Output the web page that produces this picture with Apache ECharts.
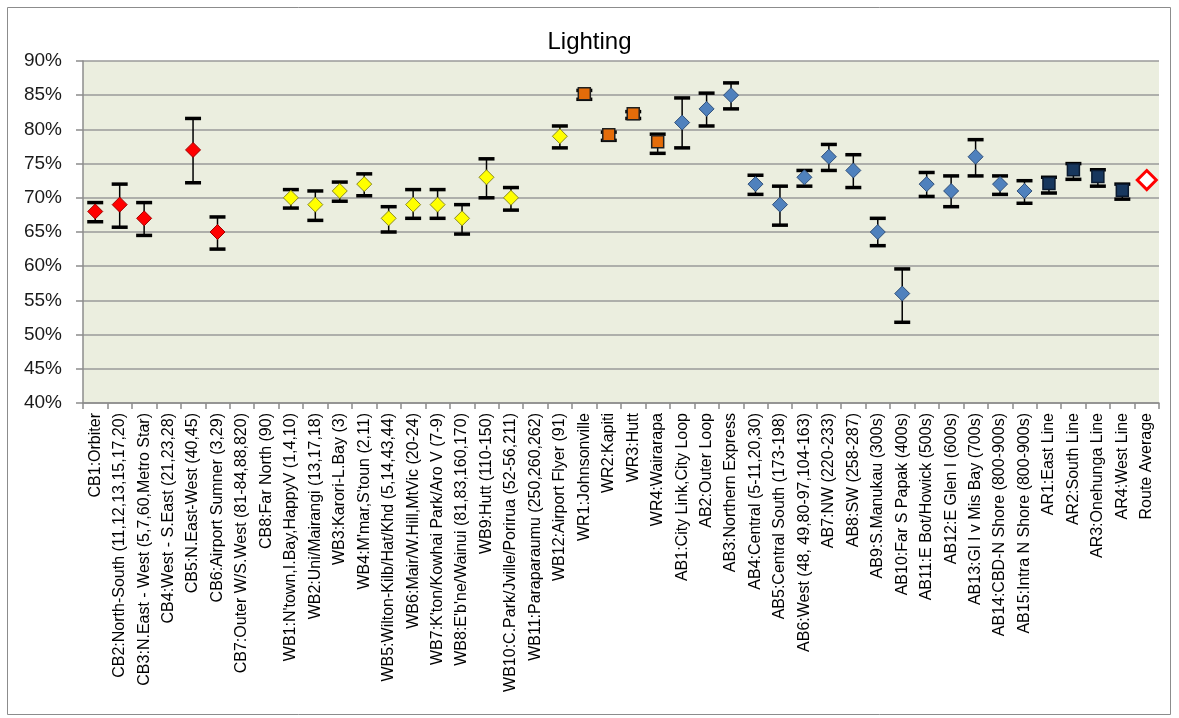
<!DOCTYPE html>
<html>
<head>
<meta charset="utf-8">
<script src="https://cdn.jsdelivr.net/npm/echarts@6/dist/echarts.min.js"></script>
<style>
html,body{margin:0;padding:0;background:#fff;}
#c{width:1179px;height:718px;}
</style>
</head>
<body>
<div id="c"></div>
<script>
var categories = [
  'CB1:Orbiter','CB2:North-South (11,12,13,15,17,20)','CB3:N.East - West (5,7,60,Metro Star)','CB4:West - S.East (21,23,28)',
  'CB5:N.East-West (40,45)','CB6:Airport Sumner (3,29)','CB7:Outer W/S.West (81-84,88,820)','CB8:Far North (90)',
  "WB1:N'town,I.Bay,HappyV (1,4,10)",'WB2:Uni/Mairangi (13,17,18)','WB3:Karori-L.Bay (3)',"WB4:M'mar,S'toun (2,11)",
  'WB5:Wilton-Kilb/Hat/Khd (5,14,43,44)','WB6:Mair/W.Hill,MtVic (20-24)',"WB7:K'ton/Kowhai Park/Aro V (7-9)",
  "WB8:E'b'ne/Wainui (81,83,160,170)",'WB9:Hutt (110-150)','WB10:C.Park/Jville/Porirua (52-56,211)',
  'WB11:Paraparaumu (250,260,262)','WB12:Airport Flyer (91)',
  'WR1:Johnsonville','WR2:Kapiti','WR3:Hutt','WR4:Wairarapa',
  'AB1:City Link,City Loop','AB2:Outer Loop','AB3:Northern Express','AB4:Central (5-11,20,30)','AB5:Central South (173-198)',
  'AB6:West (48, 49,80-97,104-163)','AB7:NW (220-233)','AB8:SW (258-287)','AB9:S.Manukau (300s)','AB10:Far S Papak (400s)',
  'AB11:E Bot/Howick (500s)','AB12:E Glen I (600s)','AB13:Gl I v Mis Bay (700s)','AB14:CBD-N Shore (800-900s)',
  'AB15:Intra N Shore (800-900s)',
  'AR1:East Line','AR2:South Line','AR3:Onehunga Line','AR4:West Line','Route Average'
];
var groups = [
  'CB','CB','CB','CB','CB','CB','CB','CB',
  'WB','WB','WB','WB','WB','WB','WB','WB','WB','WB','WB','WB',
  'WR','WR','WR','WR',
  'AB','AB','AB','AB','AB','AB','AB','AB','AB','AB','AB','AB','AB','AB','AB',
  'AR','AR','AR','AR','AVG'
];
var values = [
  68, 69, 67, null, 77, 65, null, null,
  70, 69, 71, 72, 67, 69, 69, 67, 73, 70, null, 79,
  85.2, 79.2, 82.3, 78.2,
  81, 83, 85, 72, 69, 73, 76, 74, 65, 56, 72, 71, 76, 72, 71,
  72.1, 74.1, 73.1, 71.1, 72.6
];
var lows = [
  66.5, 65.7, 64.5, null, 72.2, 62.5, null, null,
  68.5, 66.7, 69.5, 70.3, 65.0, 67.0, 67.0, 64.7, 70.0, 68.2, null, 77.3,
  84.4, 78.4, 81.6, 76.5,
  77.3, 80.5, 83.0, 70.5, 66.0, 71.7, 74.0, 71.5, 63.0, 51.8, 70.2, 68.7, 73.2, 70.5, 69.2,
  70.7, 72.7, 71.7, 69.8, null
];
var highs = [
  69.3, 72.0, 69.3, null, 81.6, 67.2, null, null,
  71.2, 71.0, 72.3, 73.5, 68.7, 71.2, 71.2, 69.0, 75.7, 71.5, null, 80.5,
  85.7, 79.6, 82.6, 79.3,
  84.6, 85.3, 86.8, 73.3, 71.7, 74.0, 77.8, 76.3, 67.0, 59.6, 73.7, 73.2, 78.5, 73.2, 72.5,
  73.0, 75.0, 74.1, 72.0, null
];
var yTicks = { min: 40, max: 90, step: 5 };

var styles = {
  CB: { symbol: 'diamond', size: 15, color: '#FF0000', border: '#A00000', bw: 1 },
  WB: { symbol: 'diamond', size: 15, color: '#FFFF00', border: '#8A8A20', bw: 1 },
  WR: { symbol: 'rect', size: 12, color: '#E46C0A', border: '#202020', bw: 1.5 },
  AB: { symbol: 'diamond', size: 15, color: '#4F81BD', border: '#2F4F7A', bw: 1 },
  AR: { symbol: 'rect', size: 12, color: '#17375E', border: '#0A1A30', bw: 1.5 },
  AVG: { symbol: 'diamond', size: 19, color: '#FFFFFF', border: '#FF0000', bw: 3 }
};

var errData = [];
for (var i = 0; i < categories.length; i++) {
  if (lows[i] != null && highs[i] != null) errData.push([i, lows[i], highs[i]]);
}

var series = [{
  type: 'custom',
  z: 2,
  data: errData,
  renderItem: function (params, api) {
    var x = api.value(0);
    var lo = api.coord([x, api.value(1)]);
    var hi = api.coord([x, api.value(2)]);
    var hw = 8, th = 3.5;
    return {
      type: 'group',
      children: [
        { type: 'line', shape: { x1: lo[0], y1: lo[1], x2: hi[0], y2: hi[1] }, style: { stroke: '#000', lineWidth: 1.5 } },
        { type: 'rect', shape: { x: hi[0] - hw, y: hi[1] - th / 2, width: hw * 2, height: th }, style: { fill: '#000' } },
        { type: 'rect', shape: { x: lo[0] - hw, y: lo[1] - th / 2, width: hw * 2, height: th }, style: { fill: '#000' } }
      ]
    };
  }
}];

Object.keys(styles).forEach(function (g) {
  var s = styles[g];
  var d = [];
  for (var i = 0; i < categories.length; i++) {
    if (groups[i] === g && values[i] != null) d.push([i, values[i]]);
  }
  series.push({
    type: 'scatter',
    z: 3,
    symbol: s.symbol,
    symbolSize: s.size,
    data: d,
    itemStyle: { color: s.color, borderColor: s.border, borderWidth: s.bw, opacity: 1 },
    emphasis: { disabled: true }
  });
});

var chart = echarts.init(document.getElementById('c'), null, { renderer: 'canvas' });
chart.setOption({
  animation: false,
  backgroundColor: '#ffffff',
  title: {
    text: 'Lighting', left: 'center', top: 25,
    textStyle: { fontFamily: 'Liberation Sans', fontSize: 24, fontWeight: 'normal', color: '#000' }
  },
  graphic: [{
    type: 'rect', left: 5, top: 5, shape: { width: 1163, height: 707 },
    style: { fill: 'none', stroke: '#8c8c8c', lineWidth: 1 }, silent: true, z: -1
  }],
  grid: { left: 83, right: 20, top: 61, bottom: 315, backgroundColor: '#EBEEDF', show: true, borderWidth: 0 },
  xAxis: {
    type: 'category',
    data: categories,
    boundaryGap: true,
    axisLine: { lineStyle: { color: '#8c8c8c', width: 1.5 } },
    axisTick: { show: true, alignWithLabel: false, interval: 0, length: 6, lineStyle: { color: '#8c8c8c', width: 1.5 } },
    axisLabel: {
      interval: 0, rotate: 90, margin: 10,
      fontFamily: 'Liberation Sans', fontSize: 16, color: '#000'
    },
    splitLine: { show: false }
  },
  yAxis: {
    type: 'value',
    min: yTicks.min, max: yTicks.max, interval: yTicks.step,
    axisLine: { show: true, lineStyle: { color: '#8c8c8c', width: 1.5 } },
    axisTick: { show: true, length: 7, lineStyle: { color: '#8c8c8c', width: 1.5 } },
    axisLabel: {
      formatter: '{value}%', margin: 21,
      fontFamily: 'Liberation Sans', fontSize: 19, color: '#1a1a1a'
    },
    splitLine: { show: true, lineStyle: { color: '#9a9a9a', width: 1.5 } }
  },
  series: series
});
</script>
</body>
</html>
